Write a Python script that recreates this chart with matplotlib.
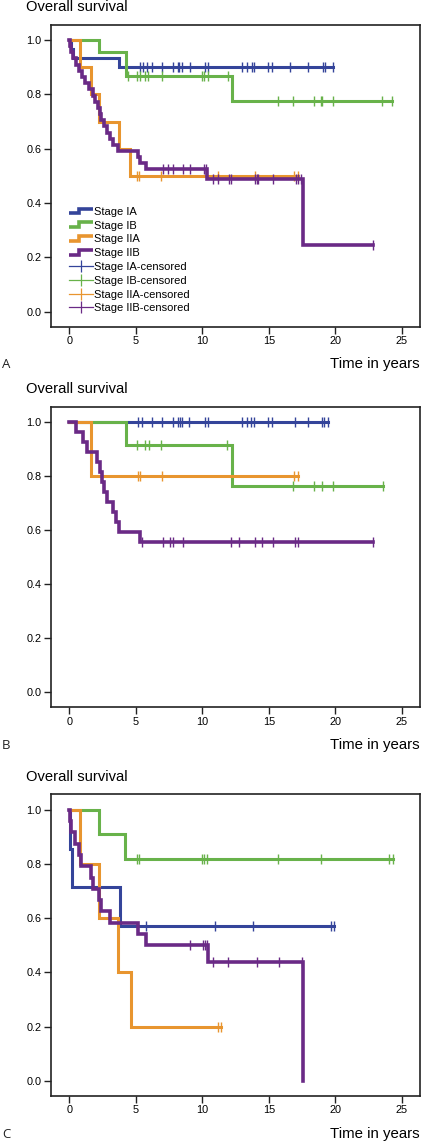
import numpy as np
import matplotlib
matplotlib.use("Agg")
import matplotlib.pyplot as plt
from matplotlib.lines import Line2D
from matplotlib.legend_handler import HandlerBase

plt.rcParams['font.family'] = ['Liberation Sans', 'DejaVu Sans']

# colours for the four stages
stages = ['Stage IA', 'Stage IB', 'Stage IIA', 'Stage IIB']
colors = ['#34449a', '#68b24a', '#e8952f', '#6a2a86']

# ---- Panel A ----
a_ia_t = [0.1, 0.25, 3.73]
a_ia_s = [0.967, 0.933, 0.90]
a_ia_c = [5.31, 5.56, 5.81, 6.19, 6.94, 7.82, 8.15, 8.27, 8.45, 9.07, 10.2, 10.45,
          12.96, 13.33, 13.71, 13.88, 14.96, 15.21, 16.59, 17.97, 19.05, 19.22, 19.85]

a_ib_t = [2.26, 4.26, 12.2]
a_ib_s = [0.955, 0.869, 0.775]
a_ib_c = [4.44, 5.06, 5.31, 5.69, 5.94, 6.94, 9.95, 10.13, 10.45, 11.95,
          15.71, 16.84, 18.4, 18.9, 19.0, 19.85, 23.48, 24.3]

a_iia_t = [0.8, 1.6, 2.26, 3.73, 4.56]
a_iia_s = [0.9, 0.8, 0.7, 0.6, 0.5]
a_iia_c = [5.07, 5.26, 6.87, 11.2, 13.96, 16.9, 17.2]

a_iib_t = [0.05, 0.15, 0.3, 0.5, 0.75, 0.95, 1.2, 1.45, 1.75, 1.95, 2.15, 2.3, 2.4,
           2.6, 2.8, 3.05, 3.3, 3.68, 5.2, 5.35, 5.74, 10.33, 17.55]
a_iib_s = [0.977, 0.955, 0.932, 0.909, 0.886, 0.864, 0.841, 0.818, 0.795, 0.773, 0.750,
           0.727, 0.705, 0.682, 0.659, 0.636, 0.614, 0.591, 0.568, 0.547, 0.525, 0.49, 0.245]
a_iib_c = [7.07, 7.44, 7.82, 8.53, 9.07, 10.13, 10.28, 10.83, 11.2, 12.03, 12.16,
           13.96, 14.09, 14.21, 15.34, 17.02, 17.22, 17.4, 22.86]

# ---- Panel B ----
b_ia_t = []
b_ia_s = []
b_ia_c = [5.19, 5.44, 6.19, 6.94, 7.82, 8.15, 8.32, 8.45, 9.02, 10.2, 10.45, 12.96,
          13.33, 13.63, 13.88, 14.96, 15.21, 16.97, 17.97, 18.98, 19.15, 19.47]

b_ib_t = [4.26, 12.2]
b_ib_s = [0.914, 0.762]
b_ib_c = [5.06, 5.69, 5.99, 6.89, 11.83, 16.84, 18.4, 18.97, 19.8, 23.6]

b_iia_t = [1.6]
b_iia_s = [0.8]
b_iia_c = [5.14, 5.31, 6.94, 16.92, 17.2]

b_iib_t = [0.5, 1.05, 1.35, 2.05, 2.3, 2.45, 2.6, 2.85, 3.3, 3.5, 3.76, 5.3]
b_iib_s = [0.963, 0.926, 0.889, 0.852, 0.815, 0.778, 0.741, 0.704, 0.667, 0.630, 0.593, 0.556]
b_iib_c = [5.44, 7.07, 7.57, 7.82, 8.52, 12.13, 12.78, 13.96, 14.46, 15.34, 16.97, 17.17, 22.86]

# ---- Panel C ----
c_ia_t = [0.05, 0.2, 3.81]
c_ia_s = [0.857, 0.714, 0.571]
c_ia_c = [5.74, 10.95, 13.83, 19.67, 19.92]

c_ib_t = [2.26, 4.19]
c_ib_s = [0.909, 0.818]
c_ib_c = [5.06, 5.26, 9.95, 10.13, 10.38, 15.71, 18.9, 24.06, 24.36]

c_iia_t = [0.8, 2.26, 3.68, 4.64]
c_iia_s = [0.8, 0.6, 0.4, 0.2]
c_iia_c = [11.2, 11.4]

c_iib_t = [0.02, 0.1, 0.45, 0.7, 0.85, 1.6, 1.75, 2.2, 2.35, 3.05, 5.2, 5.75, 10.45, 17.55]
c_iib_s = [0.958, 0.917, 0.875, 0.833, 0.792, 0.75, 0.708, 0.667, 0.625, 0.583, 0.542, 0.5, 0.4375, 0.0]
c_iib_c = [9.07, 10.08, 10.2, 10.33, 10.83, 11.95, 14.08, 15.79, 17.47]

panels = [
    ('A', [(a_ia_t, a_ia_s, a_ia_c), (a_ib_t, a_ib_s, a_ib_c),
           (a_iia_t, a_iia_s, a_iia_c), (a_iib_t, a_iib_s, a_iib_c)]),
    ('B', [(b_ia_t, b_ia_s, b_ia_c), (b_ib_t, b_ib_s, b_ib_c),
           (b_iia_t, b_iia_s, b_iia_c), (b_iib_t, b_iib_s, b_iib_c)]),
    ('C', [(c_ia_t, c_ia_s, c_ia_c), (c_ib_t, c_ib_s, c_ib_c),
           (c_iia_t, c_iia_s, c_iia_c), (c_iib_t, c_iib_s, c_iib_c)]),
]


class StepHandler(HandlerBase):
    # little step icon like in SPSS legends
    def create_artists(self, legend, orig_handle, xdescent, ydescent, width, height, fontsize, trans):
        x0, y0 = -xdescent, -ydescent
        xs = [x0, x0 + width * 0.4, x0 + width * 0.4, x0 + width]
        ys = [y0 + height * 0.2, y0 + height * 0.2, y0 + height * 0.8, y0 + height * 0.8]
        ln = Line2D(xs, ys, color=orig_handle.get_color(), lw=orig_handle.get_linewidth(),
                    solid_joinstyle='miter', solid_capstyle='butt')
        ln.set_transform(trans)
        return [ln]


W, H = 424, 1143
fig = plt.figure(figsize=(W / 100, H / 100), dpi=100)

# axes boxes in pixels: (top, bottom)
boxes = [(24.5, 326.7), (406.7, 707.3), (794.3, 1095.7)]
left_px, right_px = 51, 420
label_y = [364, 745.5, 1134]
title_y = [7, 389, 777]

for (letter, curves), (top, bot), ly, ty in zip(panels, boxes, label_y, title_y):
    ax = fig.add_axes([left_px / W, 1 - bot / H, (right_px - left_px) / W, (bot - top) / H])
    for (t, s, c), col, name in zip(curves, colors, stages):
        t = np.array(t, dtype=float)
        s = np.array(s, dtype=float)
        c = np.array(c, dtype=float)
        end = max(c.max() if len(c) else 0, t.max() if len(t) else 0)
        xs = np.concatenate([[0], t, [end]])
        ys = np.concatenate([[1.0], s, [s[-1] if len(s) else 1.0]])
        lw = 2.6 if name == 'Stage IIB' else 2.2
        ax.step(xs, ys, where='post', color=col, lw=lw, solid_joinstyle='miter')
        if len(c):
            idx = np.searchsorted(t, c, side='right')
            cy = np.concatenate([[1.0], s])[idx]
            ax.plot(c, cy, linestyle='none', marker='|', color=col, markersize=6.5, mew=1.0)

    ax.set_xlim(-1.376, 26.37)
    ax.set_ylim(-0.055, 1.057)
    ax.set_xticks([0, 5, 10, 15, 20, 25])
    ax.set_yticks([0.0, 0.2, 0.4, 0.6, 0.8, 1.0])
    ax.set_yticklabels(['0.0', '0.2', '0.4', '0.6', '0.8', '1.0'])
    ax.tick_params(axis='both', labelsize=7.8, direction='out', length=5, width=1,
                   colors='#222222', labelcolor='black', pad=2)
    for sp in ax.spines.values():
        sp.set_linewidth(1.2)
        sp.set_color('#222222')

    if letter == 'A':
        step_h = [Line2D([], [], color=c, lw=2.6) for c in colors]
        cens_h = [Line2D([], [], color=c, lw=0.9, marker='|', markersize=9, mew=0.9) for c in colors]
        labels = stages + [s + '-censored' for s in stages]
        hmap = {h: StepHandler() for h in step_h}
        ax.legend(step_h + cens_h, labels, handler_map=hmap, loc='upper left',
                  bbox_to_anchor=(0.035, 0.415), frameon=False, fontsize=8,
                  borderpad=0, labelspacing=0.34, handlelength=2.1, handletextpad=0.15,
                  numpoints=1)

    fig.text(26 / W, 1 - ty / H, 'Overall survival', fontsize=10.6, va='center', ha='left')
    fig.text(420 / W, 1 - ly / H, 'Time in years', fontsize=10.8, va='center', ha='right')
    fig.text(2 / W, 1 - ly / H, letter, fontsize=9.5, va='center', ha='left',
             family=['Open Sans', 'DejaVu Sans'], color='#222222')

fig.savefig('out.png', dpi=100)
